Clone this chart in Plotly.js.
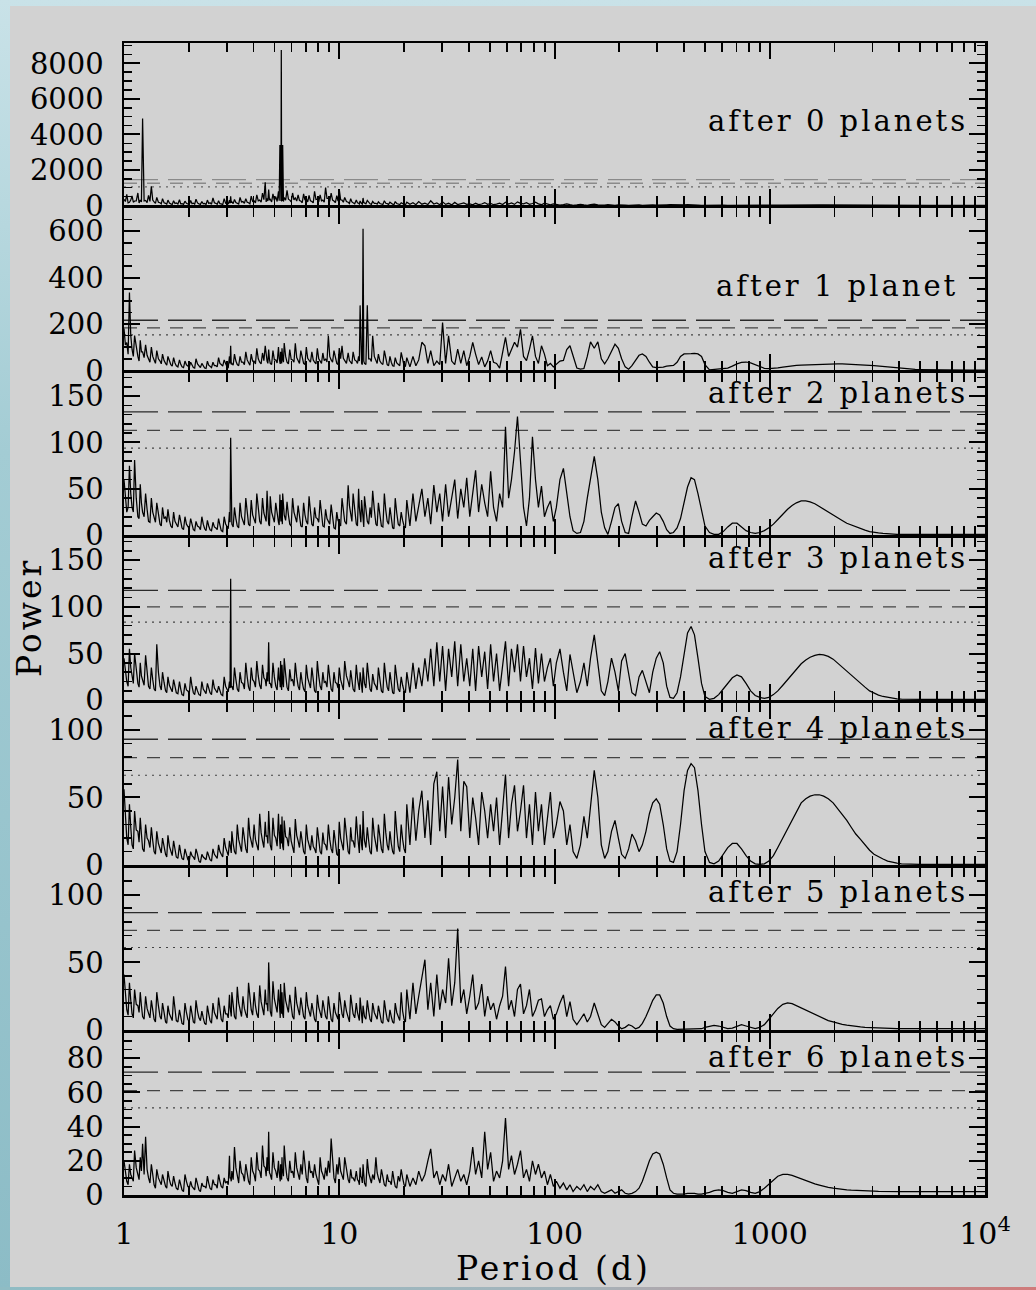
<!DOCTYPE html>
<html><head><meta charset="utf-8">
<script src="https://cdn.plot.ly/plotly-3.0.1.min.js"></script>
<style>
html,body{margin:0;padding:0;width:1036px;height:1290px;overflow:hidden;}
body{background:linear-gradient(180deg,#c9e2e8 0%,#a3ccd4 35%,#8cbcc6 100%);position:relative;}
#frame{position:absolute;left:10px;top:6px;width:1026px;height:1281px;background:#d2d2d2;}
#bottom{position:absolute;left:0;top:1287px;width:1036px;height:3px;background:linear-gradient(90deg,#8fbcc4,#a4b4bb 55%,#d07a7a);}
#chart{position:absolute;left:0;top:0;width:1026px;height:1281px;}
.annotation-text{letter-spacing:3px;}
</style></head>
<body><div id="frame"><div id="chart"></div></div><div id="bottom"></div>
<script>
// shared period grid (days)
const period = [
1.00,1.03,1.06,1.09,1.12,1.16,1.19,1.22,1.26,1.30,
1.34,1.38,1.42,1.47,1.51,1.56,1.60,1.65,1.70,1.75,
1.81,1.86,1.92,1.98,2.04,2.10,2.16,2.23,2.30,2.37,
2.44,2.51,2.59,2.67,2.75,2.83,2.92,3.01,3.09,3.13,
3.17,3.26,3.36,3.46,3.57,3.68,3.79,3.90,4.02,4.14,
4.27,4.40,4.53,4.62,4.70,4.78,4.92,5.07,5.22,5.30,
5.34,5.38,5.42,5.46,5.55,5.72,5.89,6.07,6.25,6.44,
6.63,6.83,7.03,7.24,7.46,7.68,7.91,8.15,8.39,8.64,
8.90,9.17,9.45,9.74,10.0,10.3,10.6,11.0,11.3,11.6,
12.0,12.3,12.5,12.7,12.9,13.1,13.5,13.9,14.3,14.8,
15.2,15.7,16.2,16.7,17.2,17.7,18.2,18.8,19.4,20.0,
20.6,21.3,22.0,22.7,23.4,24.2,25.0,25.8,26.6,27.5,
28.4,29.3,30.2,31.2,32.2,33.3,34.4,35.5,36.7,37.9,
39.1,40.4,41.7,43.0,44.4,45.9,47.4,48.9,50.5,52.1,
53.8,55.6,57.4,59.2,61.2,63.1,65.2,67.3,69.5,71.8,
74.1,76.5,79.0,81.6,84.2,87.0,89.8,92.7,95.7,98.8,
102,106,110,114,118,122,127,132,137,142,
147,153,159,165,171,177,184,191,198,205,
213,221,229,238,247,256,266,276,286,297,
308,320,332,344,357,371,385,400,415,431,
447,464,482,500,
525,551,579,608,638,670,704,739,776,815,
856,899,944,991,1040,1090,1150,1210,1270,1330,
1400,1470,1540,1620,1700,1780,1870,1970,2060,2170,
2280,2390,2510,2640,2770,2910,3050,3200,3360,3530,
3710,3900,4090,4300,4510,4740,4970,5220,5480,5760,
6050,6350,6670,7000,7350,7720,8100,8510,8940,9390,
10000];

const after0 = [
350,620,180,540,250,700,300,4900,280,560,
1080,200,450,150,380,120,300,90,260,140,
320,100,240,80,280,130,350,90,220,110,
300,150,420,120,260,90,380,160,300,520,
200,340,130,450,220,380,150,520,260,600,
300,700,1300,400,900,350,650,500,800,3400,
300,8750,300,3400,450,850,300,700,420,600,
250,650,380,560,220,800,350,600,300,1000,
400,700,250,550,900,300,450,180,380,150,
300,120,250,100,420,150,280,90,230,120,
200,80,260,100,180,70,220,90,150,60,
180,60,150,40,220,70,130,50,260,80,
140,40,200,60,120,30,170,50,100,140,
60,90,30,120,50,80,160,60,110,40,
70,130,50,180,80,140,60,200,120,90,
150,60,110,180,90,40,130,60,30,90,
60,20,50,90,40,10,30,60,30,10,
40,70,30,10,20,50,25,8,30,45,
20,6,15,35,25,10,20,40,30,12,
8,20,35,45,35,20,12,25,40,45,
35,20,10,15,
20,30,25,15,8,5,10,20,30,35,
30,20,12,8,10,15,22,28,32,35,
36,36,35,33,30,27,24,21,18,15,
13,11,9,8,7,6,5,5,4,4,
4,3,3,3,3,2,2,2,2,2,
2,2,2,1,1,1,1,1,1,1,
1];

const after1 = [
180,120,335,90,150,60,130,80,110,50,
100,45,85,40,70,30,60,25,55,20,
45,15,40,20,35,12,50,18,30,10,
40,15,35,20,55,25,45,15,60,106,
30,70,25,60,35,80,30,70,40,95,
35,75,106,40,90,30,85,45,100,35,
80,40,95,50,118,35,90,45,117,40,
85,30,100,45,80,35,95,40,75,50,
149,45,85,30,96,106,40,75,35,80,
40,60,280,30,610,30,280,50,149,40,
70,30,85,25,60,20,55,25,78,20,
55,15,60,20,45,121,106,30,85,20,
40,25,206,30,149,40,25,92,30,85,
20,60,121,70,25,58,15,40,85,35,
30,10,70,142,60,90,121,100,177,60,
42,90,149,60,30,106,70,20,30,15,
25,40,43,90,106,60,10,5,8,60,
123,95,123,50,28,50,80,113,95,50,
15,5,20,45,65,71,60,35,15,12,
12,14,18,20,21,35,60,71,70,72,
73,71,60,25,
2,4,6,7,10,18,28,34,36,32,
24,15,9,7,8,11,14,17,19,21,
22,23,24,25,26,27,27.5,28,28,27.5,
27,26,25,24,23,21.5,20,18,16,14,
11,9,7.5,6,5,4,3.5,3,2.5,2,
2,2,1.8,1.6,1.5,1.4,1.3,1.2,1.1,1,
1];

const after2 = [
60,25,75,30,81,20,55,25,45,15,
40,18,35,12,30,20,28,10,25,12,
22,8,20,10,18,6,15,9,20,7,
16,6,14,8,18,5,20,10,25,105,
12,30,10,35,15,40,12,38,18,45,
15,40,20,48,12,42,18,35,14,44,
20,38,15,45,22,36,12,40,18,32,
10,35,15,42,12,30,18,38,10,28,
15,33,8,25,12,40,15,54,20,45,
12,50,18,38,10,42,15,30,48,12,
35,10,45,15,30,8,40,12,25,10,
38,10,45,15,30,50,20,40,12,54,
25,45,15,55,20,40,60,18,50,30,
62,20,48,70,25,55,35,20,69,30,
15,45,30,117,40,60,90,128,80,30,
10,40,106,60,30,53,20,30,37,15,
30,60,72,48,20,5,2,3,15,40,
60,85,60,25,8,1,15,30,34,15,
3,2,20,37,25,12,10,16,20,24,
22,15,6,2,3,8,18,35,52,62,
60,45,25,10,
3,1,1,4,9,13,13,9,5,3,
2,3,5,8,12,17,23,28,32,35,
37,37,36,34,31,28,25,22,19,16,
13,11,9,7,5.5,4,3,2.5,2,1.5,
1.2,1,1,1,1,1,1,1,1,1,
1,1,1,1,1,1,1,1,1,1,
1];

const after3 = [
45,20,55,25,50,18,40,22,48,15,
35,12,60,15,30,10,25,12,22,8,
20,6,18,10,25,8,15,6,20,10,
18,8,22,10,15,6,25,12,20,130,
15,35,12,30,18,40,14,35,20,42,
16,38,22,30,62,18,40,15,35,20,
42,15,38,20,45,14,33,22,40,15,
30,12,38,18,35,10,42,15,30,20,
38,12,30,18,35,15,42,20,32,12,
38,15,30,10,35,18,40,12,28,15,
35,10,40,14,30,8,38,12,25,10,
30,8,40,12,35,15,45,20,55,15,
62,20,58,10,55,25,63,15,60,20,
45,15,55,10,58,25,52,12,60,20,
50,10,40,63,15,55,30,60,20,58,
25,45,12,56,18,50,20,35,45,15,
40,55,30,10,49,30,8,20,40,15,
45,70,40,10,5,20,45,30,10,42,
50,30,8,5,25,32,20,8,30,45,
52,40,15,3,2,8,25,50,72,79,
70,45,18,4,
1,2,6,12,18,24,27,25,18,10,
5,3,2,3,6,10,16,22,28,34,
39,43,46,48,49,48.5,47,44,40,36,
31,27,22,18,14,10,7.5,5.5,4,3,
2,1.5,1.2,1,1,1,1,1,1,1,
1,1,1,1,1,1,1,1,1,1,
1];

const after4 = [
56,20,45,15,40,25,35,12,30,18,
28,10,25,12,20,8,22,10,18,6,
15,5,12,4,10,6,12,3,8,5,
10,4,12,6,15,8,20,10,18,12,
25,10,30,14,28,12,35,18,30,15,
38,18,32,22,40,15,35,20,38,16,
30,22,36,14,33,20,28,12,34,18,
25,10,30,15,22,12,28,10,24,15,
30,12,26,8,32,15,35,10,28,18,
36,12,30,15,40,18,28,10,35,14,
30,12,38,15,25,10,40,14,30,12,
45,15,50,18,40,55,20,48,15,60,
69,25,58,20,65,30,50,78,25,62,
58,20,50,35,15,54,40,20,45,25,
50,15,40,67,20,45,59,25,40,59,
20,45,15,54,25,45,15,35,54,20,
30,47,40,15,30,10,5,15,36,20,
45,70,50,15,5,10,25,33,20,8,
5,12,23,18,10,15,25,38,46,49,
45,30,12,3,2,10,30,55,70,75,
72,55,30,10,
2,1,3,8,13,16,16,12,7,3,
1,0.5,1,3,7,13,20,27,34,40,
46,49,51,52,52,51,49,46,42,38,
33,28,23,19,15,11,8,6,4.5,3,
2,1.5,1,0.8,0.5,0.5,0.5,0.5,0.5,0.5,
0.5,0.5,0.5,0.5,0.5,0.5,0.5,0.5,0.5,0.5,
0.5];

const after5 = [
41,15,35,12,30,18,28,10,25,12,
22,8,28,10,20,6,18,9,25,7,
15,5,20,8,18,6,22,9,14,5,
18,7,20,10,24,8,18,12,26,14,
28,10,32,14,25,12,35,15,28,12,
33,15,30,20,50,14,36,18,30,12,
34,16,28,12,35,18,26,10,32,15,
24,10,28,14,20,8,26,12,22,10,
25,8,20,10,28,12,22,8,26,12,
20,9,24,7,18,10,22,8,20,10,
18,6,22,8,15,6,20,9,28,8,
30,8,35,12,25,40,52,15,35,10,
41,15,30,20,53,18,35,75,20,30,
12,25,41,15,20,34,10,25,15,20,
8,18,25,47,15,22,10,30,34,12,
18,30,10,15,22,23,10,15,18,8,
12,20,26,10,21,8,4,8,12,6,
10,20,12,4,2,5,8,6,3,1,
2,4,3,1,2,5,10,16,22,26,
26,20,10,3,1,0.5,0.5,1,1,1,
0.5,0.5,1,2,
3,3.5,3,2,1,1.5,3,4,3,2,
1,2,4,8,12,16,19,20,19.5,18,
16.5,15,13,11.5,10,8.5,7,6,5,4.2,
3.6,3,2.6,2.3,2,1.8,1.6,1.4,1.3,1.2,
1.1,1,1,1,1,1,1,1,1,1,
1,1,1,1,1,1,1,1,1,1,
1];

const after6 = [
20,8,18,10,26,12,22,30,34,10,
18,6,15,8,12,5,14,6,11,4,
9,3,12,5,8,4,10,3,7,5,
11,4,9,6,12,5,10,8,23,10,
14,28,10,20,12,18,8,22,12,25,
14,29,16,22,37,12,25,14,20,10,
18,12,22,15,29,10,20,14,25,12,
18,26,10,20,14,18,8,22,12,16,
20,33,10,18,22,12,22,9,15,10,
14,8,16,10,18,7,21,10,12,22,
10,15,6,12,8,14,5,11,15,6,
12,5,10,6,14,8,12,20,27,10,
14,6,12,8,18,5,10,15,8,12,
6,14,28,12,20,10,37,15,25,8,
14,10,20,45,15,23,12,18,26,10,
15,8,20,12,18,10,14,6,12,5,
8,4,7,3,6,2,5,3,6,2,
5,3,6,2,1,2,3,1,2,3,
1,0.5,1,2,4,8,14,20,24,25,
24,18,10,3,1,0.5,0.5,0.5,1,1,
1,0.5,0.5,1,
1.5,2.5,3,2.5,1.5,1,2,3,2.5,1.5,
1,2,4,6.5,9,11,12,12,11.5,10.5,
9.5,8.5,7.5,6.5,5.8,5,4.5,4,3.6,3.3,
3,2.8,2.6,2.5,2.4,2.3,2.2,2.1,2,2,
2,2,2,2,2,2,2,2,2,2,
2,2,2,2,2,2,2,2,2,2,
2];

// extra, finer samples of the short-period noise (1 - 20 d)
const periodFine = [
1.015,1.045,1.075,1.105,1.14,1.175,1.205,1.24,1.28,1.32,
1.36,1.40,1.445,1.49,1.535,1.58,1.625,1.675,1.725,1.78,
1.835,1.89,1.95,2.01,2.07,2.13,2.195,2.265,2.335,2.405,
2.475,2.55,2.63,2.71,2.79,2.875,2.965,3.05,3.11,3.15,
3.215,3.31,3.41,3.515,3.625,3.735,3.845,3.96,4.08,4.205,
4.335,4.465,4.575,4.66,4.74,4.85,4.995,5.145,5.26,5.32,
5.36,5.40,5.44,5.505,5.635,5.805,5.98,6.16,6.345,6.535,
6.73,6.93,7.135,7.35,7.57,7.795,8.03,8.27,8.515,8.77,
9.035,9.31,9.595,9.87,10.15,10.45,10.8,11.15,11.45,11.8,
12.15,12.4,12.6,12.8,13.0,13.3,13.7,14.1,14.55,15.0,
15.45,15.95,16.45,16.95,17.45,17.95,18.5,19.1,19.7,20.3];

const fine0 = [
220,150,300,180,260,140,200,250,160,230,
300,120,180,90,150,70,130,60,110,80,
90,60,120,50,100,70,140,60,90,50,
110,70,150,60,100,50,130,80,120,150,
100,160,80,200,120,180,90,230,140,260,
180,320,200,250,300,200,280,220,260,300,
250,260,280,220,300,350,200,320,250,280,
150,300,200,260,140,330,200,260,180,400,
230,300,160,250,320,180,220,110,200,90,
150,80,130,70,160,90,140,60,120,70,
110,50,120,60,100,40,110,50,80,40];
const fine1 = [
110,70,150,60,95,40,80,55,65,35,
60,30,50,28,42,22,38,18,32,15,
26,12,24,14,20,10,28,12,18,8,
22,12,20,15,30,18,26,12,30,25,
22,40,20,35,25,45,22,40,28,50,
28,42,50,30,48,25,45,32,50,28,
45,30,50,35,60,28,48,35,55,30,
48,25,52,35,45,28,50,30,42,36,
60,35,48,25,50,52,30,42,28,45,
30,40,45,25,40,25,50,38,60,30,
40,25,45,20,35,18,32,20,40,18];
const fine2 = [
40,30,45,25,40,18,35,20,28,14,
25,14,22,10,18,14,16,8,15,9,
13,6,12,7,11,5,10,6,12,5,
10,5,9,6,11,4,12,7,14,12,
9,18,8,20,11,24,10,22,13,26,
12,24,15,28,10,25,14,22,11,26,
15,24,12,28,16,22,10,25,14,20,
9,22,12,26,10,19,14,24,9,18,
12,20,7,16,10,25,12,32,15,28,
10,30,14,24,9,26,12,19,28,10,
22,9,27,12,19,7,24,10,16,8];
const fine3 = [
30,15,35,18,32,14,26,16,30,12,
22,10,30,11,19,8,16,9,14,7,
12,5,11,7,15,6,10,5,12,7,
11,6,13,8,10,5,15,9,13,14,
11,22,9,19,12,25,10,22,14,26,
12,24,15,20,18,13,25,11,22,14,
26,11,24,14,28,10,21,15,25,11,
19,9,24,13,22,8,26,11,19,14,
24,9,19,13,22,11,26,14,20,9,
24,11,19,8,22,13,25,9,18,11,
22,8,25,10,19,7,24,9,16,8];
const fine4 = [
35,15,28,12,26,17,23,10,20,13,
18,8,16,9,13,6,14,7,11,5,
9,4,8,3,7,4,8,2,6,4,
7,3,8,5,10,6,13,7,12,9,
16,8,19,10,18,9,22,13,19,11,
24,13,21,16,25,11,22,14,24,12,
19,16,23,11,21,14,18,9,22,13,
16,8,19,11,14,9,18,8,16,11,
19,9,17,7,20,11,22,8,18,13,
23,9,19,11,25,13,18,8,22,10,
19,9,24,11,16,8,25,10,19,9];
const fine5 = [
26,11,22,9,19,13,18,8,16,9,
14,6,18,8,13,5,12,7,16,6,
10,4,13,6,12,5,14,7,9,4,
12,5,13,8,15,6,12,9,17,10,
18,8,20,10,16,9,22,11,18,9,
21,11,19,14,18,10,23,13,19,9,
22,12,18,9,22,13,17,8,20,11,
16,8,18,10,13,6,17,9,14,8,
16,6,13,8,18,9,14,6,17,9,
13,7,15,5,12,8,14,6,13,8,
12,5,14,6,10,5,13,7,14,6];
const fine6 = [
14,6,12,8,16,9,14,12,15,7,
11,4,10,6,8,4,9,5,7,3,
6,2,8,4,5,3,7,2,5,4,
7,3,6,4,8,4,7,6,10,8,
9,16,7,13,8,12,6,14,8,15,
10,17,11,14,13,9,16,10,13,8,
12,9,14,11,17,8,13,10,16,9,
12,16,7,13,10,12,6,14,9,11,
13,18,7,12,14,9,14,7,10,8,
9,6,11,7,12,5,13,7,9,13,
7,10,5,8,6,9,4,8,10,5];

const panelLabels = ['after 0 planets','after 1 planet','after 2 planets','after 3 planets','after 4 planets','after 5 planets','after 6 planets'];
const thrLong  = [1450, 216, 133, 117.7, 93, 86.8, 71.9];
const thrShort = [1250, 183, 113, 100, 79.5, 73.7, 61];
const thrDot   = [1040, 153, 94, 83.7, 66.4, 61, 51];
const yMax   = [9150, 700, 175, 174, 120, 120, 95];
const yDtick = [2000, 200, 50, 50, 50, 50, 20];
const yMinor = [500, 50, 10, 10, 10, 10, 5];
const periodRange = [1, 10000];
const xTickVals = [1, 10, 100, 1000, 10000];
const xTickText = ['1', '10', '100', '1000', '10<sup>4</sup>'];
const xMinorVals = [2,3,4,5,6,7,8,9,20,30,40,50,60,70,80,90,200,300,400,500,600,700,800,900,2000,3000,4000,5000,6000,7000,8000,9000];

const powers = [after0, after1, after2, after3, after4, after5, after6];
const fines = [fine0, fine1, fine2, fine3, fine4, fine5, fine6];
function merged(i) {
  const pts = period.map((p, k) => [p, powers[i][k]]).concat(periodFine.map((p, k) => [p, fines[i][k]]));
  pts.sort((a, b) => a[0] - b[0]);
  return {x: pts.map(q => q[0]), y: pts.map(q => q[1])};
}
const FONT = 'DejaVu Serif, Liberation Serif, serif';
const N = 7;
const W = 1026, H = 1281, ML = 114, MR = 51, MT = 37, MB = 92;
const plotH = H - MT - MB;
const LW = 2.5;
const gap = LW / plotH;
const ph = (1 - (N - 1) * gap) / N;
const data = [];
const layout = {
  width: W, height: H,
  margin: {l: ML, r: MR, t: MT, b: MB},
  paper_bgcolor: '#d2d2d2', plot_bgcolor: '#d2d2d2',
  showlegend: false, hovermode: false,
  font: {family: FONT, color: '#000'},
  annotations: []
};
const labelY = [0.52, 0.517, 0.873, 0.873, 0.847, 0.847, 0.847];
const labelX = [0.982, 0.971, 0.982, 0.982, 0.982, 0.982, 0.982];
for (let i = 0; i < N; i++) {
  const s = i === 0 ? '' : String(i + 1);
  const xa = 'x' + s, ya = 'y' + s;
  const thrColor = i === 0 ? '#8a8a8a' : '#2a2a2a';
  data.push({x: periodRange, y: [thrLong[i], thrLong[i]], xaxis: xa, yaxis: ya, mode: 'lines', line: {color: thrColor, width: 1.3, dash: '34px,10px'}});
  data.push({x: periodRange, y: [thrShort[i], thrShort[i]], xaxis: xa, yaxis: ya, mode: 'lines', line: {color: i === 0 ? '#8a8a8a' : '#444', width: 1.3, dash: '13px,10px'}});
  data.push({x: periodRange, y: [thrDot[i], thrDot[i]], xaxis: xa, yaxis: ya, mode: 'lines', line: {color: i === 0 ? '#666' : '#444', width: 1.2, dash: '2px,5px'}});
  const m = merged(i);
  data.push({x: m.x, y: m.y, xaxis: xa, yaxis: ya, mode: 'lines', line: {color: '#000', width: 1.25}});
  const top = 1 - i * (ph + gap);
  const d0 = Math.max(0, top - ph), d1 = Math.min(1, top);
  layout['xaxis' + s] = {
    type: 'log', range: [0, 4], domain: [0, 1], anchor: ya,
    showline: true, linewidth: LW, linecolor: '#000', mirror: 'allticks',
    ticks: 'inside', ticklen: 16, tickwidth: 2, tickcolor: '#000',
    tickmode: 'array', tickvals: xTickVals, ticktext: xTickText,
    showticklabels: i === N - 1, tickfont: {family: FONT, size: 30, color: '#000'},
    ticklabelstandoff: 10,
    minor: {tickmode: 'array', tickvals: xMinorVals, ticks: 'inside', ticklen: 9, tickwidth: 1.8, tickcolor: '#000'},
    showgrid: false, zeroline: false, fixedrange: true
  };
  layout['yaxis' + s] = {
    domain: [d0, d1], range: [0, yMax[i]], anchor: xa,
    tickmode: 'linear', tick0: 0, dtick: yDtick[i], tickformat: 'd',
    showline: true, linewidth: LW, linecolor: '#000', mirror: 'allticks',
    ticks: 'inside', ticklen: 16, tickwidth: 2, tickcolor: '#000',
    tickfont: {family: FONT, size: 29, color: '#000'}, ticklabelstandoff: 12,
    minor: {dtick: yMinor[i], ticks: 'inside', ticklen: 8, tickwidth: 1.6, tickcolor: '#000'},
    showgrid: false, zeroline: false, fixedrange: true
  };
  layout.annotations.push({
    text: panelLabels[i], xref: 'paper', yref: ya + ' domain', x: labelX[i], y: labelY[i],
    xanchor: 'right', yanchor: 'middle', showarrow: false,
    font: {family: FONT, size: 29, color: '#000'}
  });
}
layout.annotations.push({text: 'Power', xref: 'paper', yref: 'paper', x: -0.109, y: 0.501, textangle: -90,
  xanchor: 'center', yanchor: 'middle', showarrow: false, font: {family: FONT, size: 33, color: '#000'}});
layout.annotations.push({text: 'Period (d)', xref: 'paper', yref: 'paper', x: 0.4994, y: -0.064,
  xanchor: 'center', yanchor: 'middle', showarrow: false, font: {family: FONT, size: 33, color: '#000'}});

Plotly.newPlot('chart', data, layout, {staticPlot: true, displayModeBar: false});
const bad = [];
powers.forEach((p, i) => { if (p.length !== period.length) bad.push('panel ' + i + ': ' + p.length + ' vs ' + period.length); });
fines.forEach((p, i) => { if (p.length !== periodFine.length) bad.push('fine ' + i + ': ' + p.length + ' vs ' + periodFine.length); });
if (bad.length) setTimeout(() => { throw new Error('length mismatch ' + bad.join('; ')); }, 0);
</script></body></html>
